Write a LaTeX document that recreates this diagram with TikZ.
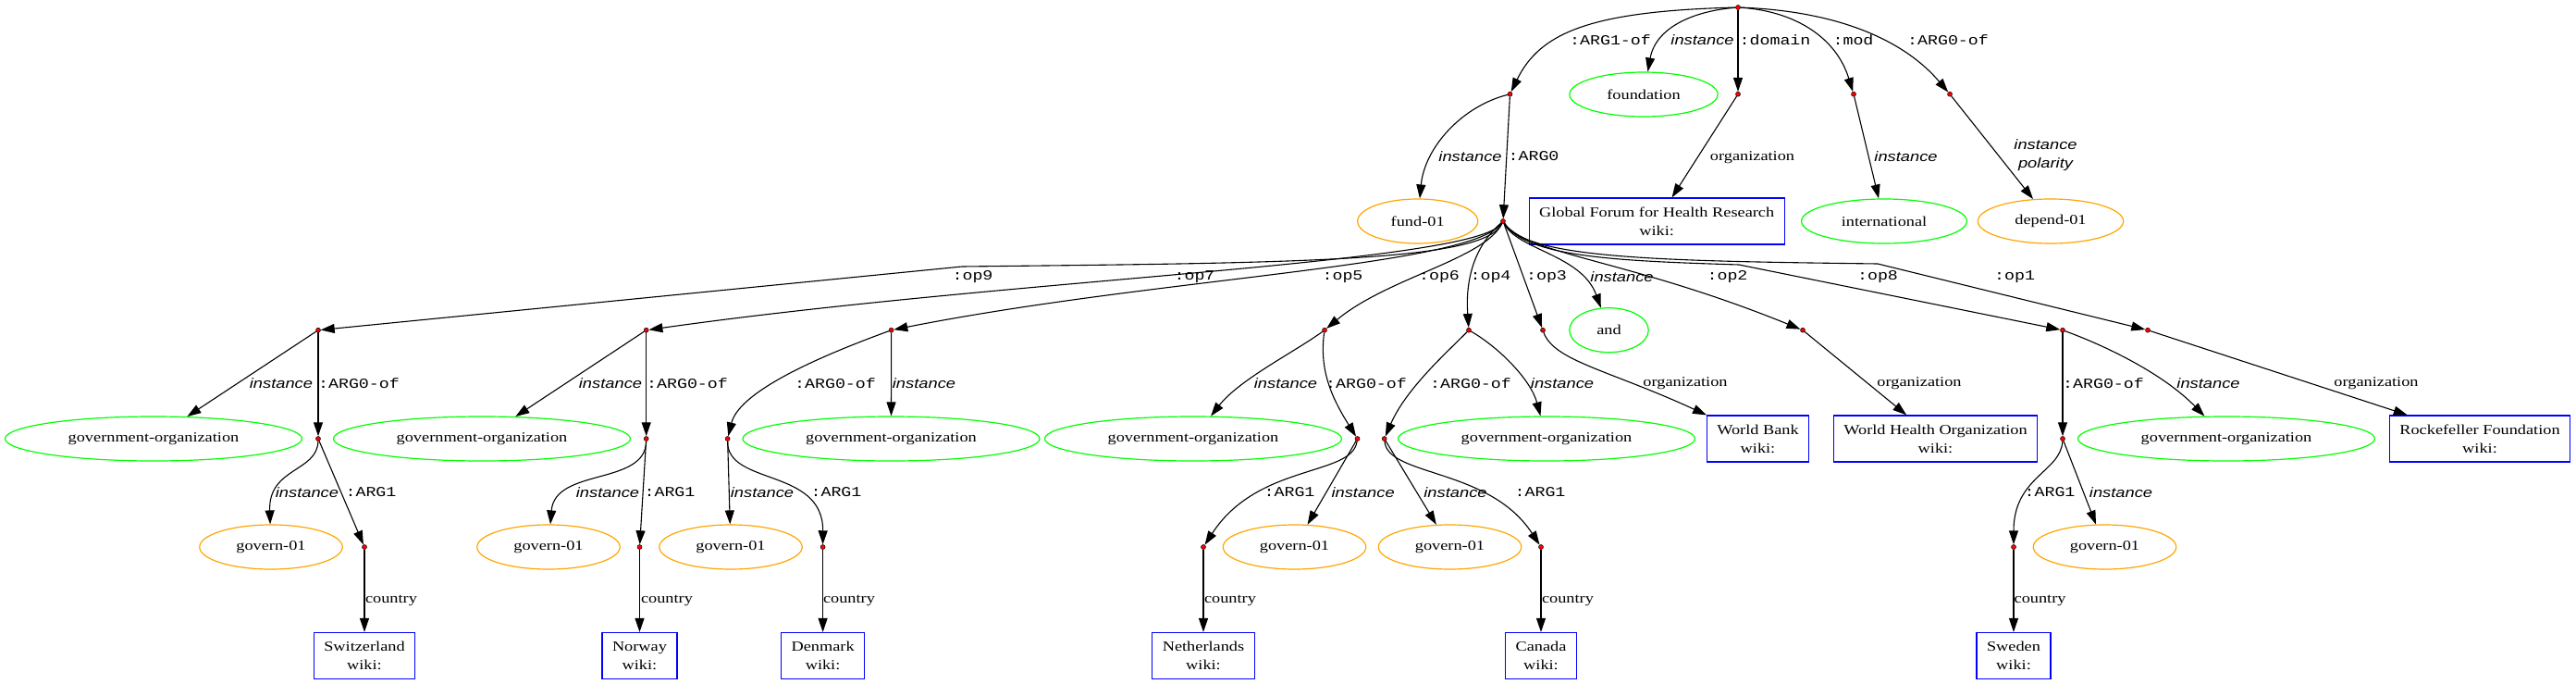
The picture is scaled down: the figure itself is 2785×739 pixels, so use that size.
\documentclass[tikz,border=0pt]{standalone}
\usepackage{fontspec}
\setmainfont{Liberation Serif}[FakeStretch=1.22]
\setsansfont{Liberation Sans}[FakeStretch=1.22]
\setmonofont{Liberation Mono}[FakeStretch=1.22]
\usepackage{tikz}
\usetikzlibrary{arrows.meta,shapes.geometric}
\usepackage{xcolor}
\definecolor{ConceptGreen}{HTML}{00FF00}
\definecolor{FrameOrange}{HTML}{FFA500}
\definecolor{NameBlue}{HTML}{0000FF}
\definecolor{DotRed}{HTML}{FF0000}
\newcommand\amrfont{\fontsize{15}{20}\selectfont}

\begin{document}
\begin{tikzpicture}[x=1pt, y=-1pt,
		dot/.style={circle, draw=black, fill=DotRed, line width=0.5pt,
			inner sep=0pt, minimum size=5pt},
		concept/.style={ellipse, draw=ConceptGreen, line width=1.2pt,
			minimum height=48pt, inner xsep=17pt, font=\amrfont\rmfamily},
		govorg/.style={concept, minimum width=321pt},
		predicate/.style={ellipse, draw=FrameOrange, line width=1.2pt,
			minimum height=48pt, inner xsep=17pt, font=\amrfont\rmfamily},
		entity/.style={rectangle, draw=NameBlue, line width=1.2pt,
			minimum height=50pt, inner xsep=11pt, align=center, font=\amrfont\rmfamily},
		rel/.style={inner sep=0pt, font=\amrfont\ttfamily},
		inst/.style={inner sep=0pt, align=center, font=\amrfont\sffamily\itshape},
		attr/.style={inner sep=0pt, font=\amrfont\rmfamily},
		edge/.style={-{Triangle[length=15pt,width=10pt]}, line width=1.1pt}
		]
		\useasboundingbox (0,0) rectangle (2785,739);

		% top of the graph
		\node[dot] (r) at (1879,8) {};
		\node[dot] (a1) at (1632.5,101.7) {};
		\node[dot] (dm) at (1879,101.7) {};
		\node[dot] (md) at (2004,101.7) {};
		\node[dot] (a0) at (2108,101.7) {};
		\node[concept] (found) at (1777,102) {foundation};
		\node[predicate] (fund) at (1532.7,239) {fund-01};
		\node[dot] (hub) at (1625,239) {};
		\node[entity] (gffhr) at (1791.2,239) {Global Forum for Health Research\\wiki:};
		\node[concept] (intl) at (2037,239) {international};
		\node[predicate] (dep) at (2217,239) {depend-01};

		\draw[edge] (r) .. controls (1720,12) and (1665,35) .. (a1);
		\draw[edge] (r) .. controls (1830,12) and (1790,30) .. (found);
		\draw[edge] (r) -- (dm);
		\draw[edge] (r) .. controls (1940,12) and (1985,40) .. (md);
		\draw[edge] (r) .. controls (1990,12) and (2060,45) .. (a0);
		\draw[edge] (a1) .. controls (1580,115) and (1540,160) .. (fund);
		\draw[edge] (a1) -- (hub);
		\draw[edge] (dm) -- (gffhr);
		\draw[edge] (md) -- (intl);
		\draw[edge] (a0) -- (dep);

		\node[rel] (l1) at (1741,43) {:ARG1-of};
		\node[inst] (l2) at (1840.5,43) {instance};
		\node[rel] (l3) at (1919,43) {:domain};
		\node[rel] (l4) at (2003.5,43) {:mod};
		\node[rel] (l5) at (2106,43) {:ARG0-of};
		\node[inst] (l6) at (1589.5,169) {instance};
		\node[rel] (l7) at (1658,169) {:ARG0};
		\node[attr] (l8) at (1894.5,170) {organization};
		\node[inst] (l9) at (2060.5,169) {instance};
		\node[inst] (l10) at (2211.5,168) {instance\\polarity};

		% operands of and
		\node[dot] (o9) at (344,356.7) {};
		\node[dot] (o7) at (698.7,356.7) {};
		\node[dot] (o5) at (963.6,356.7) {};
		\node[dot] (o6) at (1432,356.7) {};
		\node[dot] (o4) at (1588,356.7) {};
		\node[dot] (o3) at (1668,356.7) {};
		\node[concept] (and) at (1739.5,356.7) {and};
		\node[dot] (o2) at (1949,356.7) {};
		\node[dot] (o8) at (2230,356.7) {};
		\node[dot] (o1) at (2322,356.7) {};

		\draw[edge] (hub) .. controls (1605,283) and (1400,284) .. (1040,288) -- (o9);
		\draw[edge] (hub) .. controls (1595,285) and (1100,300) .. (o7);
		\draw[edge] (hub) .. controls (1590,288) and (1250,300) .. (o5);
		\draw[edge] (hub) .. controls (1605,280) and (1500,300) .. (o6);
		\draw[edge] (hub) .. controls (1595,265) and (1584,300) .. (o4);
		\draw[edge] (hub) -- (o3);
		\draw[edge] (hub) .. controls (1640,270) and (1710,275) .. (and);
		\draw[edge] (hub) .. controls (1650,275) and (1760,280) .. (o2);
		\draw[edge] (hub) .. controls (1650,278) and (1750,282) .. (1880,286) -- (o8);
		\draw[edge] (hub) .. controls (1650,280) and (1800,282) .. (2030,285) -- (o1);

		\node[rel] (l11) at (1051.5,299) {:op9};
		\node[rel] (l12) at (1291.5,299) {:op7};
		\node[rel] (l13) at (1451.5,299) {:op5};
		\node[rel] (l14) at (1556,299) {:op6};
		\node[rel] (l15) at (1611.5,299) {:op4};
		\node[rel] (l16) at (1672,299) {:op3};
		\node[inst] (l17) at (1753.5,299) {instance};
		\node[rel] (l18) at (1867.5,299) {:op2};
		\node[rel] (l19) at (2030,299) {:op8};
		\node[rel] (l20) at (2178,299) {:op1};

		% second row
		\node[govorg] (go9) at (166,474) {government-organization};
		\node[dot] (g9) at (344,474) {};
		\node[govorg] (go7) at (521,474) {government-organization};
		\node[dot] (g7) at (698.7,474) {};
		\node[dot] (g5) at (786.6,474) {};
		\node[govorg] (go5) at (963.5,474) {government-organization};
		\node[govorg] (go6) at (1290,474) {government-organization};
		\node[dot] (g6) at (1467.5,474) {};
		\node[dot] (g4) at (1496.7,474) {};
		\node[govorg] (go4) at (1672,474) {government-organization};
		\node[entity] (wb) at (1900.5,474) {World Bank\\wiki:};
		\node[entity] (who) at (2092.5,474) {World Health Organization\\wiki:};
		\node[dot] (g8) at (2230,474) {};
		\node[govorg] (go8) at (2407,474) {government-organization};
		\node[entity] (rock) at (2681,474) {Rockefeller Foundation\\wiki:};

		\draw[edge] (o9) -- (go9);
		\draw[edge] (o9) -- (g9);
		\draw[edge] (o7) -- (go7);
		\draw[edge] (o7) -- (g7);
		\draw[edge] (o5) .. controls (900,380) and (800,420) .. (g5);
		\draw[edge] (o5) -- (go5);
		\draw[edge] (o6) .. controls (1400,380) and (1340,410) .. (go6);
		\draw[edge] (o6) .. controls (1426,400) and (1440,430) .. (g6);
		\draw[edge] (o4) .. controls (1565,380) and (1520,420) .. (g4);
		\draw[edge] (o4) .. controls (1620,375) and (1655,410) .. (go4);
		\draw[edge] (o3) .. controls (1680,390) and (1740,400) .. (wb);
		\draw[edge] (o2) -- (who);
		\draw[edge] (o8) -- (g8);
		\draw[edge] (o8) .. controls (2280,375) and (2340,405) .. (go8);
		\draw[edge] (o1) -- (rock);

		\node[inst] (l21) at (304,414) {instance};
		\node[rel] (l22) at (388,414) {:ARG0-of};
		\node[inst] (l23) at (660,414) {instance};
		\node[rel] (l24) at (743,414) {:ARG0-of};
		\node[rel] (l25) at (903,414) {:ARG0-of};
		\node[inst] (l26) at (999,414) {instance};
		\node[inst] (l27) at (1390,414) {instance};
		\node[rel] (l28) at (1477,414) {:ARG0-of};
		\node[rel] (l29) at (1590,414) {:ARG0-of};
		\node[inst] (l30) at (1689,414) {instance};
		\node[attr] (l31) at (1822,414) {organization};
		\node[attr] (l32) at (2075,414) {organization};
		\node[rel] (l33) at (2274,414) {:ARG0-of};
		\node[inst] (l34) at (2387.5,414) {instance};
		\node[attr] (l35) at (2569,414) {organization};

		% govern-01 and countries
		\node[predicate] (v9) at (293,591) {govern-01};
		\node[dot] (c9) at (394,591) {};
		\node[predicate] (v7) at (593,591) {govern-01};
		\node[dot] (c7) at (691.5,591) {};
		\node[predicate] (v5) at (790,591) {govern-01};
		\node[dot] (c5) at (889.6,591) {};
		\node[dot] (c6) at (1301,591) {};
		\node[predicate] (v6) at (1399.5,591) {govern-01};
		\node[predicate] (v4) at (1567.5,591) {govern-01};
		\node[dot] (c4) at (1666,591) {};
		\node[dot] (c8) at (2177,591) {};
		\node[predicate] (v8) at (2275.5,591) {govern-01};

		\node[entity] (swiss) at (394,708.5) {Switzerland\\wiki:};
		\node[entity] (norway) at (691.5,708.5) {Norway\\wiki:};
		\node[entity] (denmark) at (889.6,708.5) {Denmark\\wiki:};
		\node[entity] (nether) at (1301,708.5) {Netherlands\\wiki:};
		\node[entity] (canada) at (1666,708.5) {Canada\\wiki:};
		\node[entity] (sweden) at (2177,708.5) {Sweden\\wiki:};

		\draw[edge] (g9) .. controls (343,510) and (290,505) .. (v9);
		\draw[edge] (g9) -- (c9);
		\draw[edge] (g7) .. controls (698,525) and (600,505) .. (v7);
		\draw[edge] (g7) -- (c7);
		\draw[edge] (g5) -- (v5);
		\draw[edge] (g5) .. controls (786,525) and (890,505) .. (c5);
		\draw[edge] (g6) .. controls (1462,515) and (1360,500) .. (c6);
		\draw[edge] (g6) -- (v6);
		\draw[edge] (g4) -- (v4);
		\draw[edge] (g4) .. controls (1500,515) and (1610,505) .. (c4);
		\draw[edge] (g8) .. controls (2228,510) and (2177,515) .. (c8);
		\draw[edge] (g8) -- (v8);

		\draw[edge] (c9) -- (swiss);
		\draw[edge] (c7) -- (norway);
		\draw[edge] (c5) -- (denmark);
		\draw[edge] (c6) -- (nether);
		\draw[edge] (c4) -- (canada);
		\draw[edge] (c8) -- (sweden);

		\node[inst] (l36) at (332,532) {instance};
		\node[rel] (l37) at (401,532) {:ARG1};
		\node[inst] (l38) at (657,532) {instance};
		\node[rel] (l39) at (724,532) {:ARG1};
		\node[inst] (l40) at (824,532) {instance};
		\node[rel] (l41) at (904,532) {:ARG1};
		\node[rel] (l42) at (1394,532) {:ARG1};
		\node[inst] (l43) at (1473.6,532) {instance};
		\node[inst] (l44) at (1573.5,532) {instance};
		\node[rel] (l45) at (1665,532) {:ARG1};
		\node[rel] (l46) at (2216,532) {:ARG1};
		\node[inst] (l47) at (2293,532) {instance};

		\node[attr] (l48) at (423,649) {country};
		\node[attr] (l49) at (721,649) {country};
		\node[attr] (l50) at (918,649) {country};
		\node[attr] (l51) at (1330,649) {country};
		\node[attr] (l52) at (1695,649) {country};
		\node[attr] (l53) at (2205.6,649) {country};
	\end{tikzpicture}
\end{document}
